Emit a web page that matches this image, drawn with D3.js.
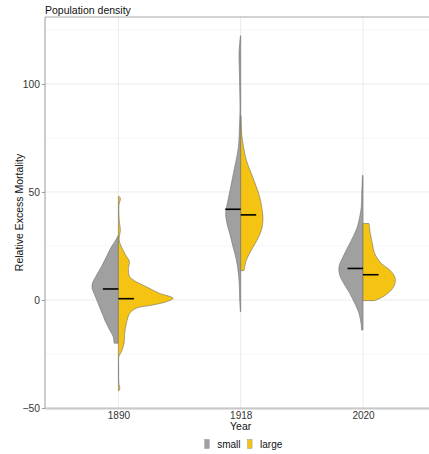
<!DOCTYPE html>
<html>
<head>
<meta charset="utf-8">
<script src="https://cdn.jsdelivr.net/npm/d3@7"></script>
<style>
  html, body { margin: 0; padding: 0; background: #fff; }
  text { font-family: "Liberation Sans", Arial, sans-serif; }
</style>
</head>
<body>
<svg id="chart" width="429" height="454"></svg>
<script>
// ---- data ----
const years = ["1890", "1918", "2020"];
const groups = ["small", "large"];
const groupColors = ["#a0a0a0", "#f5c412"];

const yTicks = [-50, 0, 50, 100];
const yMinor = [-25, 25, 75, 125];

// density profiles: value along y and relative density (half-width)
const v1890Small = [30, 27.7, 24.6, 20, 15.4, 10.8, 7.7, 5.4, 2.3, -1.5, -5.4, -7.5, -9.2, -13.9, -16.9, -20];
const d1890Small = [0, 2.7, 7, 12, 17, 22.7, 26, 26.3, 23.7, 20.3, 17, 15, 13.7, 8.7, 5.3, 4.3];
const v1890Large = [48, 47, 44, 40, 36, 32.3, 30, 27.7, 24.6, 21, 17.7, 14.6, 10.8, 8.4, 6.1, 3.1, 0.8, -0.8, -2.3, -3.8, -6.2, -10.8, -15.4, -20, -23.9, -26.2, -30, -35.4, -39, -41, -42];
const d1890Large = [0.5, 2, 0.6, 0.5, 1, 2, 1.2, 0.8, 3, 7, 11, 10, 11.3, 18, 28, 41, 54.7, 48, 34.7, 18, 11.3, 8, 6.3, 5.7, 3, 0.5, 0.3, 0.3, 0.6, 1.5, 0.5];
const v1918Small = [122.3, 114, 106, 98.5, 89, 83, 77, 72.3, 67.7, 60, 52.3, 46.2, 40, 35.4, 30.8, 24.6, 18.5, 12.3, 6.2, 0, -5.4];
const d1918Small = [0.3, 1.7, 1.3, 1, 0.7, 1, 1.5, 2, 3.3, 6.7, 10, 12.7, 15, 13.7, 11, 7.7, 4.3, 2.3, 1.3, 1, 0.3];
const v1918Large = [85.4, 77, 72.3, 64.6, 58.5, 52.3, 47.7, 43.1, 37.7, 32.3, 27.7, 23.1, 18.5, 13.6];
const d1918Large = [0.2, 1, 2.3, 5.7, 10.7, 15.7, 19, 21, 22.3, 20.7, 16.3, 10.7, 5.7, 3.3];
const v2020Small = [57.7, 49.2, 43.1, 38.5, 33.8, 29.2, 24.6, 20, 15.4, 11.5, 7.7, 3.1, -1.5, -6.2, -10.8, -13.9];
const d2020Small = [0.5, 1.3, 1.7, 3.3, 5.7, 10, 15, 20, 24, 23.3, 19.3, 13.3, 8.3, 4, 2, 1.5];
const v2020Large = [35.4, 30.8, 26.2, 21.5, 16.9, 13.9, 10.8, 7.7, 4.6, 1.5, -0.3];
const d2020Large = [6, 7.3, 9.3, 11.7, 18.3, 26.7, 31.7, 32, 28.3, 20, 11.7];

const medianSmall = [5.1, 42, 14.6];
const medianLarge = [0.6, 39.4, 11.7];

// ---- build ----
const profiles = [
  [ [v1890Small, d1890Small], [v1890Large, d1890Large] ],
  [ [v1918Small, d1918Small], [v1918Large, d1918Large] ],
  [ [v2020Small, d2020Small], [v2020Large, d2020Large] ]
];
const medians = [medianSmall, medianLarge];

const W = 429, H = 454;
const m = { left: 45, top: 17, bottom: 408, right: 436.4 };
const svg = d3.select("#chart");

const x = d3.scalePoint().domain(years).range([m.left, m.right]).padding(0.6);
const y = d3.scaleLinear().domain([-50, 131]).range([m.bottom, m.top]);
const maxD = d3.max(profiles.flat().map(p => d3.max(p[1])));
const w = d3.scaleLinear().domain([0, maxD]).range([0, 0.447 * x.step()]);

// gridlines
const grid = svg.append("g");
grid.selectAll("line.minor").data(yMinor).join("line")
  .attr("x1", m.left).attr("x2", W)
  .attr("y1", d => y(d)).attr("y2", d => y(d))
  .attr("stroke", "#eeeeee").attr("stroke-width", 0.6);
grid.selectAll("line.major").data(yTicks).join("line")
  .attr("x1", m.left).attr("x2", W)
  .attr("y1", d => y(d)).attr("y2", d => y(d))
  .attr("stroke", "#ebebeb").attr("stroke-width", 1);
grid.selectAll("line.vx").data(years).join("line")
  .attr("x1", d => x(d)).attr("x2", d => x(d))
  .attr("y1", m.top).attr("y2", m.bottom)
  .attr("stroke", "#ebebeb").attr("stroke-width", 1);

// violins
const area = d3.area().curve(d3.curveCatmullRom.alpha(0.5));
const gV = svg.append("g");
years.forEach((yr, i) => {
  const cx = x(yr);
  groups.forEach((g, gi) => {
    const [vals, dens] = profiles[i][gi];
    const pts = vals.map((v, k) => ({ v, d: dens[k] }));
    const sign = gi === 0 ? -1 : 1;
    area.y(d => y(d.v)).x0(cx).x1(d => cx + sign * w(d.d));
    gV.append("path").datum(pts)
      .attr("d", area)
      .attr("fill", groupColors[gi])
      .attr("stroke", "#6e6e6e")
      .attr("stroke-width", 0.6);
  });
  groups.forEach((g, gi) => {
    const sign = gi === 0 ? -1 : 1;
    const yy = y(medians[gi][i]);
    gV.append("line")
      .attr("x1", cx).attr("x2", cx + sign * 15.5)
      .attr("y1", yy).attr("y2", yy)
      .attr("stroke", "#000").attr("stroke-width", 1.6);
  });
});

// panel border
svg.append("line").attr("x1", m.left).attr("x2", W).attr("y1", m.top).attr("y2", m.top)
  .attr("stroke", "#a6a6a6").attr("stroke-width", 1);
svg.append("line").attr("x1", m.left).attr("x2", m.left).attr("y1", m.top).attr("y2", m.bottom)
  .attr("stroke", "#9a9a9a").attr("stroke-width", 1);
svg.append("line").attr("x1", m.left).attr("x2", W).attr("y1", m.bottom + 0.5).attr("y2", m.bottom + 0.5)
  .attr("stroke", "#c8c8c8").attr("stroke-width", 2);

// axes
const yAxis = d3.axisLeft(y).tickValues(yTicks).tickSize(3).tickPadding(2)
  .tickFormat(d => d < 0 ? "\u2212" + Math.abs(d) : d);
const gy = svg.append("g").attr("transform", `translate(${m.left},0)`).call(yAxis);
gy.select(".domain").remove();
gy.selectAll(".tick line").attr("stroke", "#999");
gy.selectAll(".tick text").attr("fill", "#333").style("font-size", "10.3px")
  .style("font-family", '"Liberation Sans", Arial, sans-serif');

const xAxis = d3.axisBottom(x).tickSize(0).tickPadding(2.5);
const gx = svg.append("g").attr("transform", `translate(0,${m.bottom + 1})`).call(xAxis);
gx.select(".domain").remove();
gx.selectAll(".tick text").attr("fill", "#333").style("font-size", "10px")
  .style("font-family", '"Liberation Sans", Arial, sans-serif');

// titles
svg.append("text").attr("x", m.left).attr("y", 13.5)
  .style("font-size", "10.5px").attr("fill", "#111").text("Population density");
svg.append("text").attr("x", (m.left + m.right) / 2).attr("y", 430)
  .attr("text-anchor", "middle").style("font-size", "10.5px").attr("fill", "#111").text("Year");
svg.append("text")
  .attr("transform", `translate(22.5,${(m.top + m.bottom) / 2}) rotate(-90)`)
  .attr("text-anchor", "middle").style("font-size", "10.5px").attr("fill", "#111")
  .text("Relative Excess Mortality");

// legend
const lg = svg.append("g");
let lx = 0;
groups.forEach((g, gi) => {
  const it = lg.append("g");
  it.append("rect").attr("x", lx).attr("y", 439.5).attr("width", 4.5).attr("height", 9)
    .attr("fill", groupColors[gi]).attr("stroke", "#8a8a8a").attr("stroke-width", 0.4);
  const t = it.append("text").attr("x", lx + 12.5).attr("y", 447.6)
    .style("font-size", "10px").attr("fill", "#111").text(g);
  lx += 12.5 + t.node().getComputedTextLength() + 7;
});
const totalW = lx - 7;
lg.attr("transform", `translate(${243.5 - totalW / 2},0)`);
</script>
</body>
</html>
